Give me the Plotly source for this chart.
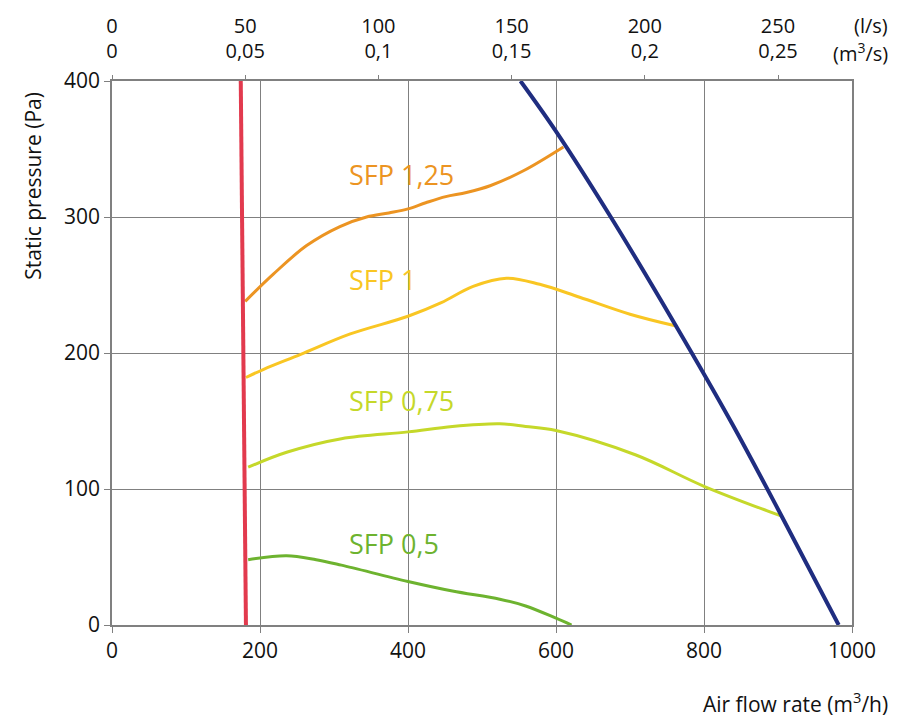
import plotly.graph_objects as go

# curvas (m3/h, Pa)
red_x = [174, 181]
red_y = [400, 0]

blue_x = [552, 600, 674, 761, 838, 905, 982]
blue_y = [400, 363, 300, 221, 148, 80, 0]

sfp125_x = [180, 218, 263, 308, 344, 374, 400, 424, 451, 479, 511, 556, 610]
sfp125_y = [238, 258, 279, 293, 300, 303, 306, 310.5, 315, 318, 323, 334, 351.5]

sfp1_x = [181, 205, 255, 322, 400, 445, 488, 533, 578, 632, 700, 761]
sfp1_y = [182, 188, 199, 214, 227, 237, 249, 255, 250.5, 241, 228.5, 220]

sfp075_x = [184, 236, 310, 400, 460, 524, 559, 600, 708, 800, 905]
sfp075_y = [116, 127, 137, 142, 146, 148, 146, 143, 125, 102, 80]

sfp05_x = [184, 236, 276, 310, 400, 460, 524, 559, 600, 621]
sfp05_y = [48, 51, 48, 44, 32, 25, 19, 14, 5, 0]

labels = ["SFP 1,25", "SFP 1", "SFP 0,75", "SFP 0,5"]
label_y = [331, 254, 165, 60]
label_x = 317

top_ls = [0, 50, 100, 150, 200, 250]
top_m3s = ["0", "0,05", "0,1", "0,15", "0,2", "0,25"]

FONT = "Open Sans"
GRID = "#808080"

fig = go.Figure()

curvas = [
    (sfp125_x, sfp125_y, "#ec9422", 3),
    (sfp1_x, sfp1_y, "#f9c623", 3),
    (sfp075_x, sfp075_y, "#c5d82a", 3),
    (sfp05_x, sfp05_y, "#6db32f", 3),
    (red_x, red_y, "#e23a4e", 4),
    (blue_x, blue_y, "#1f2d80", 4),
]
for cx, cy, col, w in curvas:
    fig.add_trace(go.Scatter(x=cx, y=cy, mode="lines",
                             line=dict(color=col, width=w, shape="spline", smoothing=1),
                             showlegend=False, hoverinfo="skip"))

# trazas vacias para los ejes superiores (l/s y m3/s)
for eje in ["x2", "x3"]:
    fig.add_trace(go.Scatter(x=[0], y=[0], xaxis=eje, mode="lines",
                             line=dict(width=0), showlegend=False, hoverinfo="skip"))

colores = ["#ec9422", "#f9c623", "#c5d82a", "#6db32f"]
for txt, ly, col in zip(labels, label_y, colores):
    fig.add_annotation(x=label_x, y=ly, text=txt, showarrow=False, xanchor="left",
                       yanchor="middle", font=dict(family=FONT, size=27, color=col))

fig.add_annotation(xref="paper", yref="paper", x=1, y=1, xshift=38, yshift=56,
                   text="(l/s)", showarrow=False, xanchor="right", yanchor="middle",
                   font=dict(family=FONT, size=20, color="#111"))
fig.add_annotation(xref="paper", yref="paper", x=1, y=1, xshift=38, yshift=29,
                   text="(m<sup>3</sup>/s)", showarrow=False, xanchor="right", yanchor="middle",
                   font=dict(family=FONT, size=20, color="#111"))
fig.add_annotation(xref="paper", yref="paper", x=1, y=0, xshift=38, yshift=-77,
                   text="Air flow rate (m<sup>3</sup>/h)", showarrow=False, xanchor="right",
                   yanchor="middle", font=dict(family=FONT, size=21, color="#111"))
fig.add_annotation(xref="paper", yref="y", x=0, y=323, xshift=-79,
                   text="Static pressure (Pa)", textangle=-90, showarrow=False,
                   xanchor="center", yanchor="middle",
                   font=dict(family=FONT, size=21, color="#111"))

fig.update_layout(
    width=899, height=712,
    margin=dict(l=104, r=55, t=73, b=95),
    plot_bgcolor="white", paper_bgcolor="white",
    font=dict(family=FONT, size=21, color="#111"),
    xaxis=dict(range=[0, 1000], tickvals=[0, 200, 400, 600, 800, 1000],
               showgrid=True, gridcolor=GRID, gridwidth=1, zeroline=False,
               showline=True, linecolor=GRID, linewidth=1.5, mirror=True,
               ticks="outside", ticklen=6, tickcolor=GRID, automargin=False),
    xaxis2=dict(range=[0, 1000 / 3.6], overlaying="x", side="top",
                tickvals=top_ls, ticktext=top_m3s, tickfont=dict(size=20),
                showgrid=False, zeroline=False, showline=False,
                ticks="outside", ticklen=5, tickcolor=GRID, ticklabelstandoff=9,
                automargin=False),
    xaxis3=dict(range=[0, 1000 / 3.6], overlaying="x", side="top",
                tickvals=top_ls, ticktext=[str(v) for v in top_ls], tickfont=dict(size=20),
                showgrid=False, zeroline=False, showline=False,
                ticks="", ticklabelstandoff=43, automargin=False),
    yaxis=dict(range=[0, 400], tickvals=[0, 100, 200, 300, 400],
               showgrid=True, gridcolor=GRID, gridwidth=1, zeroline=False,
               showline=True, linecolor=GRID, linewidth=1.5, mirror=True,
               ticks="outside", ticklen=6, tickcolor=GRID, automargin=False),
)

fig.write_html("out.html")
